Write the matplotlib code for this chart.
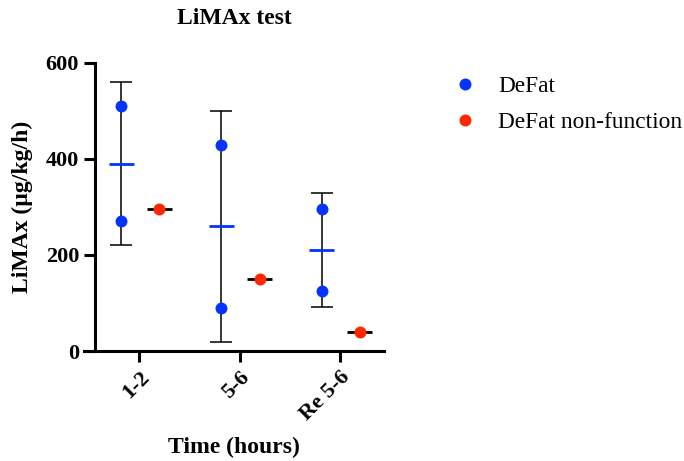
import numpy as np
import matplotlib
matplotlib.use("Agg")
import matplotlib.pyplot as plt
from matplotlib.lines import Line2D

categories = ['1-2', '5-6', 'Re 5-6']
defat = [[510, 270], [430, 90], [295, 126]]
defat_nonfunction = [295, 150, 40]

blue = '#0433FF'
red = '#FF2600'

plt.rcParams['font.family'] = 'Liberation Serif'

fig = plt.figure(figsize=(6.84, 4.61), dpi=100)
ax = fig.add_axes([84 / 684, 110 / 461, 300 / 684, 288 / 461])

x = np.arange(len(categories))
off = 0.18
half = 0.125

for i, vals in enumerate(defat):
    vals = np.array(vals, dtype=float)
    m = vals.mean()
    sd = vals.std(ddof=1)
    xb = x[i] - off
    ax.errorbar(xb, m, yerr=sd, fmt='none', ecolor='black', elinewidth=1.1,
                capsize=8, capthick=1.1, zorder=2)
    ax.hlines(m, xb - half, xb + half, color=blue, lw=2, zorder=3)
    ax.plot([xb] * len(vals), vals, 'o', color=blue, ms=8.6, mec='none', zorder=4)

for i, v in enumerate(defat_nonfunction):
    xr = x[i] + off + 0.02
    ax.hlines(v, xr - half, xr + half, color='black', lw=2, zorder=3)
    ax.plot(xr, v, 'o', color=red, ms=8.6, mec='none', zorder=4)

ax.set_xlim(-0.55, 2.44)
ax.set_ylim(0, 600)
ax.set_yticks([0, 200, 400, 600])
ax.set_xticks(x)
ax.set_xticklabels(categories, rotation=45, ha='right', rotation_mode='anchor')

ax.spines['top'].set_visible(False)
ax.spines['right'].set_visible(False)
ax.spines['left'].set_position(('data', -0.44))
for s in ['left', 'bottom']:
    ax.spines[s].set_linewidth(2.2)
ax.tick_params(width=2.2, length=8, labelsize=16)
for lab in ax.get_xticklabels() + ax.get_yticklabels():
    lab.set_fontweight('bold')

ax.set_title('LiMAx test', fontsize=17, fontweight='bold', pad=28)
ax.set_ylabel('LiMAx (µg/kg/h)', fontsize=17, fontweight='bold', labelpad=9)
ax.set_xlabel('Time (hours)', fontsize=17, fontweight='bold', labelpad=9)

handles = [Line2D([], [], ls='none', marker='o', color=blue, ms=8.6, mec='none'),
           Line2D([], [], ls='none', marker='o', color=red, ms=8.6, mec='none')]
fig.legend(handles, ['DeFat', 'DeFat non-function'], loc='upper left',
           bbox_to_anchor=(432 / 684, 1 - 55 / 461), frameon=False, fontsize=16.8,
           handlelength=1, handletextpad=0.94, labelspacing=0.63)

fig.savefig('out.png', dpi=100)
